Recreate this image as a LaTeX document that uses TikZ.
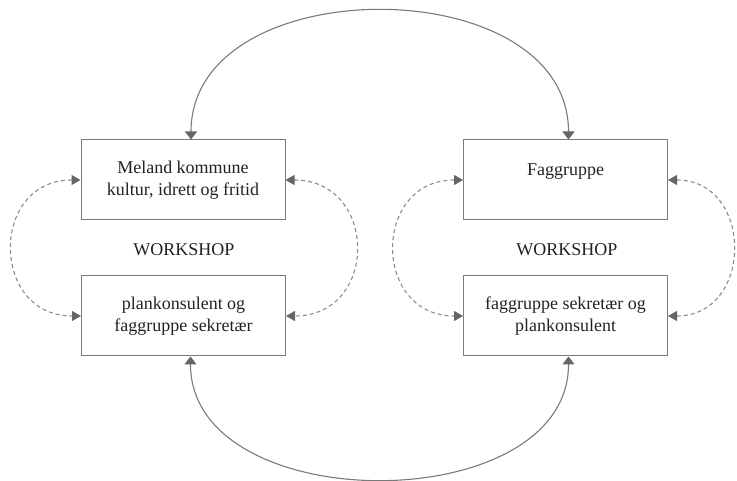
\documentclass[tikz,border=0pt]{standalone}
\usepackage{fontspec}
\setmainfont{Liberation Serif}
\usetikzlibrary{arrows.meta}
\definecolor{framegray}{HTML}{7A7A7A}
\definecolor{tipgray}{HTML}{666666}
\definecolor{dashgray}{HTML}{8C8C8C}
\definecolor{textdark}{HTML}{222222}

\begin{document}
\begin{tikzpicture}[x=1pt,y=-1pt]
        \tikzstyle{every node} = [text=textdark, font=\fontsize{18}{21.5}\selectfont]
        \tikzstyle{unitbox} = [rectangle, draw=framegray, line width=1pt, minimum width=204pt, minimum height=80pt, align=center, inner sep=0pt]
        \tikzstyle{solidarc} = [draw=framegray, line width=1.1pt, {Triangle[width=12pt,length=8pt,color=tipgray]}-{Triangle[width=12pt,length=8pt,color=tipgray]}]
        \tikzstyle{dasharc} = [draw=dashgray, line width=1.1pt, dash pattern=on 4pt off 3pt, {Triangle[width=10pt,length=9pt,color=tipgray]}-{Triangle[width=10pt,length=9pt,color=tipgray]}]
        \useasboundingbox (0,0) rectangle (737,481);

        \node[unitbox] (lt) at (183,180) {Meland kommune\\kultur, idrett og fritid};
        \node[unitbox] (lb) at (183.5,316) {plankonsulent og\\faggruppe sekretær};
        \node[unitbox] (rt) at (565.5,180) {Faggruppe\\\mbox{}};
        \node[unitbox] (rb) at (565.5,316) {faggruppe sekretær og\\plankonsulent};
        \node (lw) at (184,250) {WORKSHOP};
        \node (rw) at (567,250) {WORKSHOP};

        \draw[solidarc] ([xshift=8pt]lt.north) .. controls +(0,-171) and +(0,-171) .. ([xshift=3pt]rt.north);
        \draw[solidarc] ([xshift=7pt]lb.south) .. controls +(0,163) and +(0,163) .. ([xshift=3pt]rb.south);

        \draw[dasharc] (lt.west) .. controls +(-91,0) and +(-91,0) .. (lb.west);
        \draw[dasharc] (lt.east) .. controls +(93,0) and +(93,0) .. (lb.east);
        \draw[dasharc] (rt.west) .. controls +(-91,0) and +(-91,0) .. (rb.west);
        \draw[dasharc] (rt.east) .. controls +(86,0) and +(86,0) .. (rb.east);
\end{tikzpicture}
\end{document}
